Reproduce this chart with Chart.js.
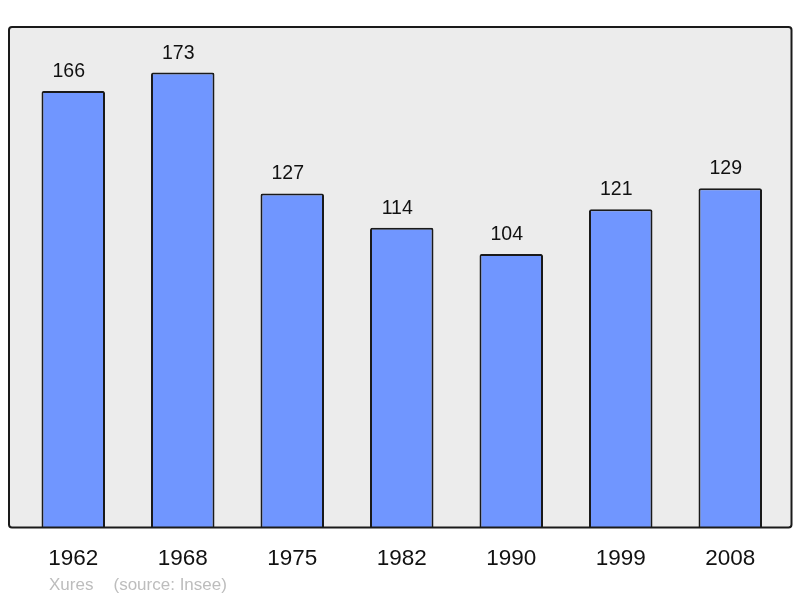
<!DOCTYPE html>
<html>
<head>
<meta charset="utf-8">
<script src="https://cdn.jsdelivr.net/npm/chart.js@4"></script>
<style>
  html, body { margin: 0; padding: 0; background: #fff; }
  #wrap { width: 800px; height: 598px; }
</style>
</head>
<body>
<div id="wrap"><canvas id="popChart" width="800" height="598"></canvas></div>
<script>
const annees = ["1962", "1968", "1975", "1982", "1990", "1999", "2008"];
const population = [166, 173, 127, 114, 104, 121, 129];
const yMax = 190.3;
const auteur = "Xures";
const source = "(source: Insee)";

const police = "'Liberation Sans', Arial, sans-serif";

// cadre gris + textes autour du graphique
const decor = {
  id: "decor",
  beforeDatasetsDraw(chart) {
    const { ctx, chartArea } = chart;
    const x0 = chartArea.left - 9.5, x1 = chartArea.right + 6.5;
    const y0 = chartArea.top, y1 = chartArea.bottom;
    ctx.save();
    ctx.beginPath();
    ctx.roundRect(x0, y0, x1 - x0, y1 - y0, 3);
    ctx.fillStyle = "#ececec";
    ctx.fill();
    ctx.restore();
  },
  afterDatasetsDraw(chart) {
    const { ctx, chartArea } = chart;
    const x0 = chartArea.left - 9.5, x1 = chartArea.right + 6.5;
    const y0 = chartArea.top, y1 = chartArea.bottom;
    ctx.save();
    ctx.beginPath();
    ctx.roundRect(x0, y0, x1 - x0, y1 - y0, 3);
    ctx.lineWidth = 2;
    ctx.strokeStyle = "#1a1a1a";
    ctx.stroke();

    // valeurs au-dessus des barres
    const meta = chart.getDatasetMeta(0);
    ctx.fillStyle = "#111";
    ctx.font = "19.5px " + police;
    ctx.textAlign = "center";
    ctx.textBaseline = "alphabetic";
    meta.data.forEach((bar, i) => {
      ctx.fillText(String(population[i]), bar.x - 4.5, bar.y - 14);
    });

    // années sous l'axe
    const xs = chart.scales.x;
    ctx.font = "22.5px " + police;
    annees.forEach((a, i) => {
      ctx.fillText(a, xs.getPixelForValue(i), chartArea.bottom + 37);
    });

    // auteur et source
    ctx.font = "17px " + police;
    ctx.fillStyle = "#bdbdbd";
    ctx.textAlign = "left";
    ctx.fillText(auteur, chartArea.left + 30.5, chartArea.bottom + 62.5);
    ctx.fillText(source, chartArea.left + 95, chartArea.bottom + 62.5);
    ctx.restore();
  }
};

new Chart(document.getElementById("popChart").getContext("2d"), {
  type: "bar",
  data: {
    labels: annees,
    datasets: [{
      data: population,
      backgroundColor: "#7096ff",
      borderColor: "#1a1a1a",
      borderWidth: 2,
      borderSkipped: "bottom",
      borderRadius: { topLeft: 2, topRight: 2 },
      categoryPercentage: 1,
      barPercentage: 0.58
    }]
  },
  options: {
    responsive: false,
    animation: false,
    layout: { padding: { left: 18.5, right: 15, top: 27, bottom: 70.5 } },
    plugins: { legend: { display: false }, tooltip: { enabled: false } },
    scales: {
      x: { display: false },
      y: { display: false, min: 0, max: yMax }
    }
  },
  plugins: [decor]
});
</script>
</body>
</html>
